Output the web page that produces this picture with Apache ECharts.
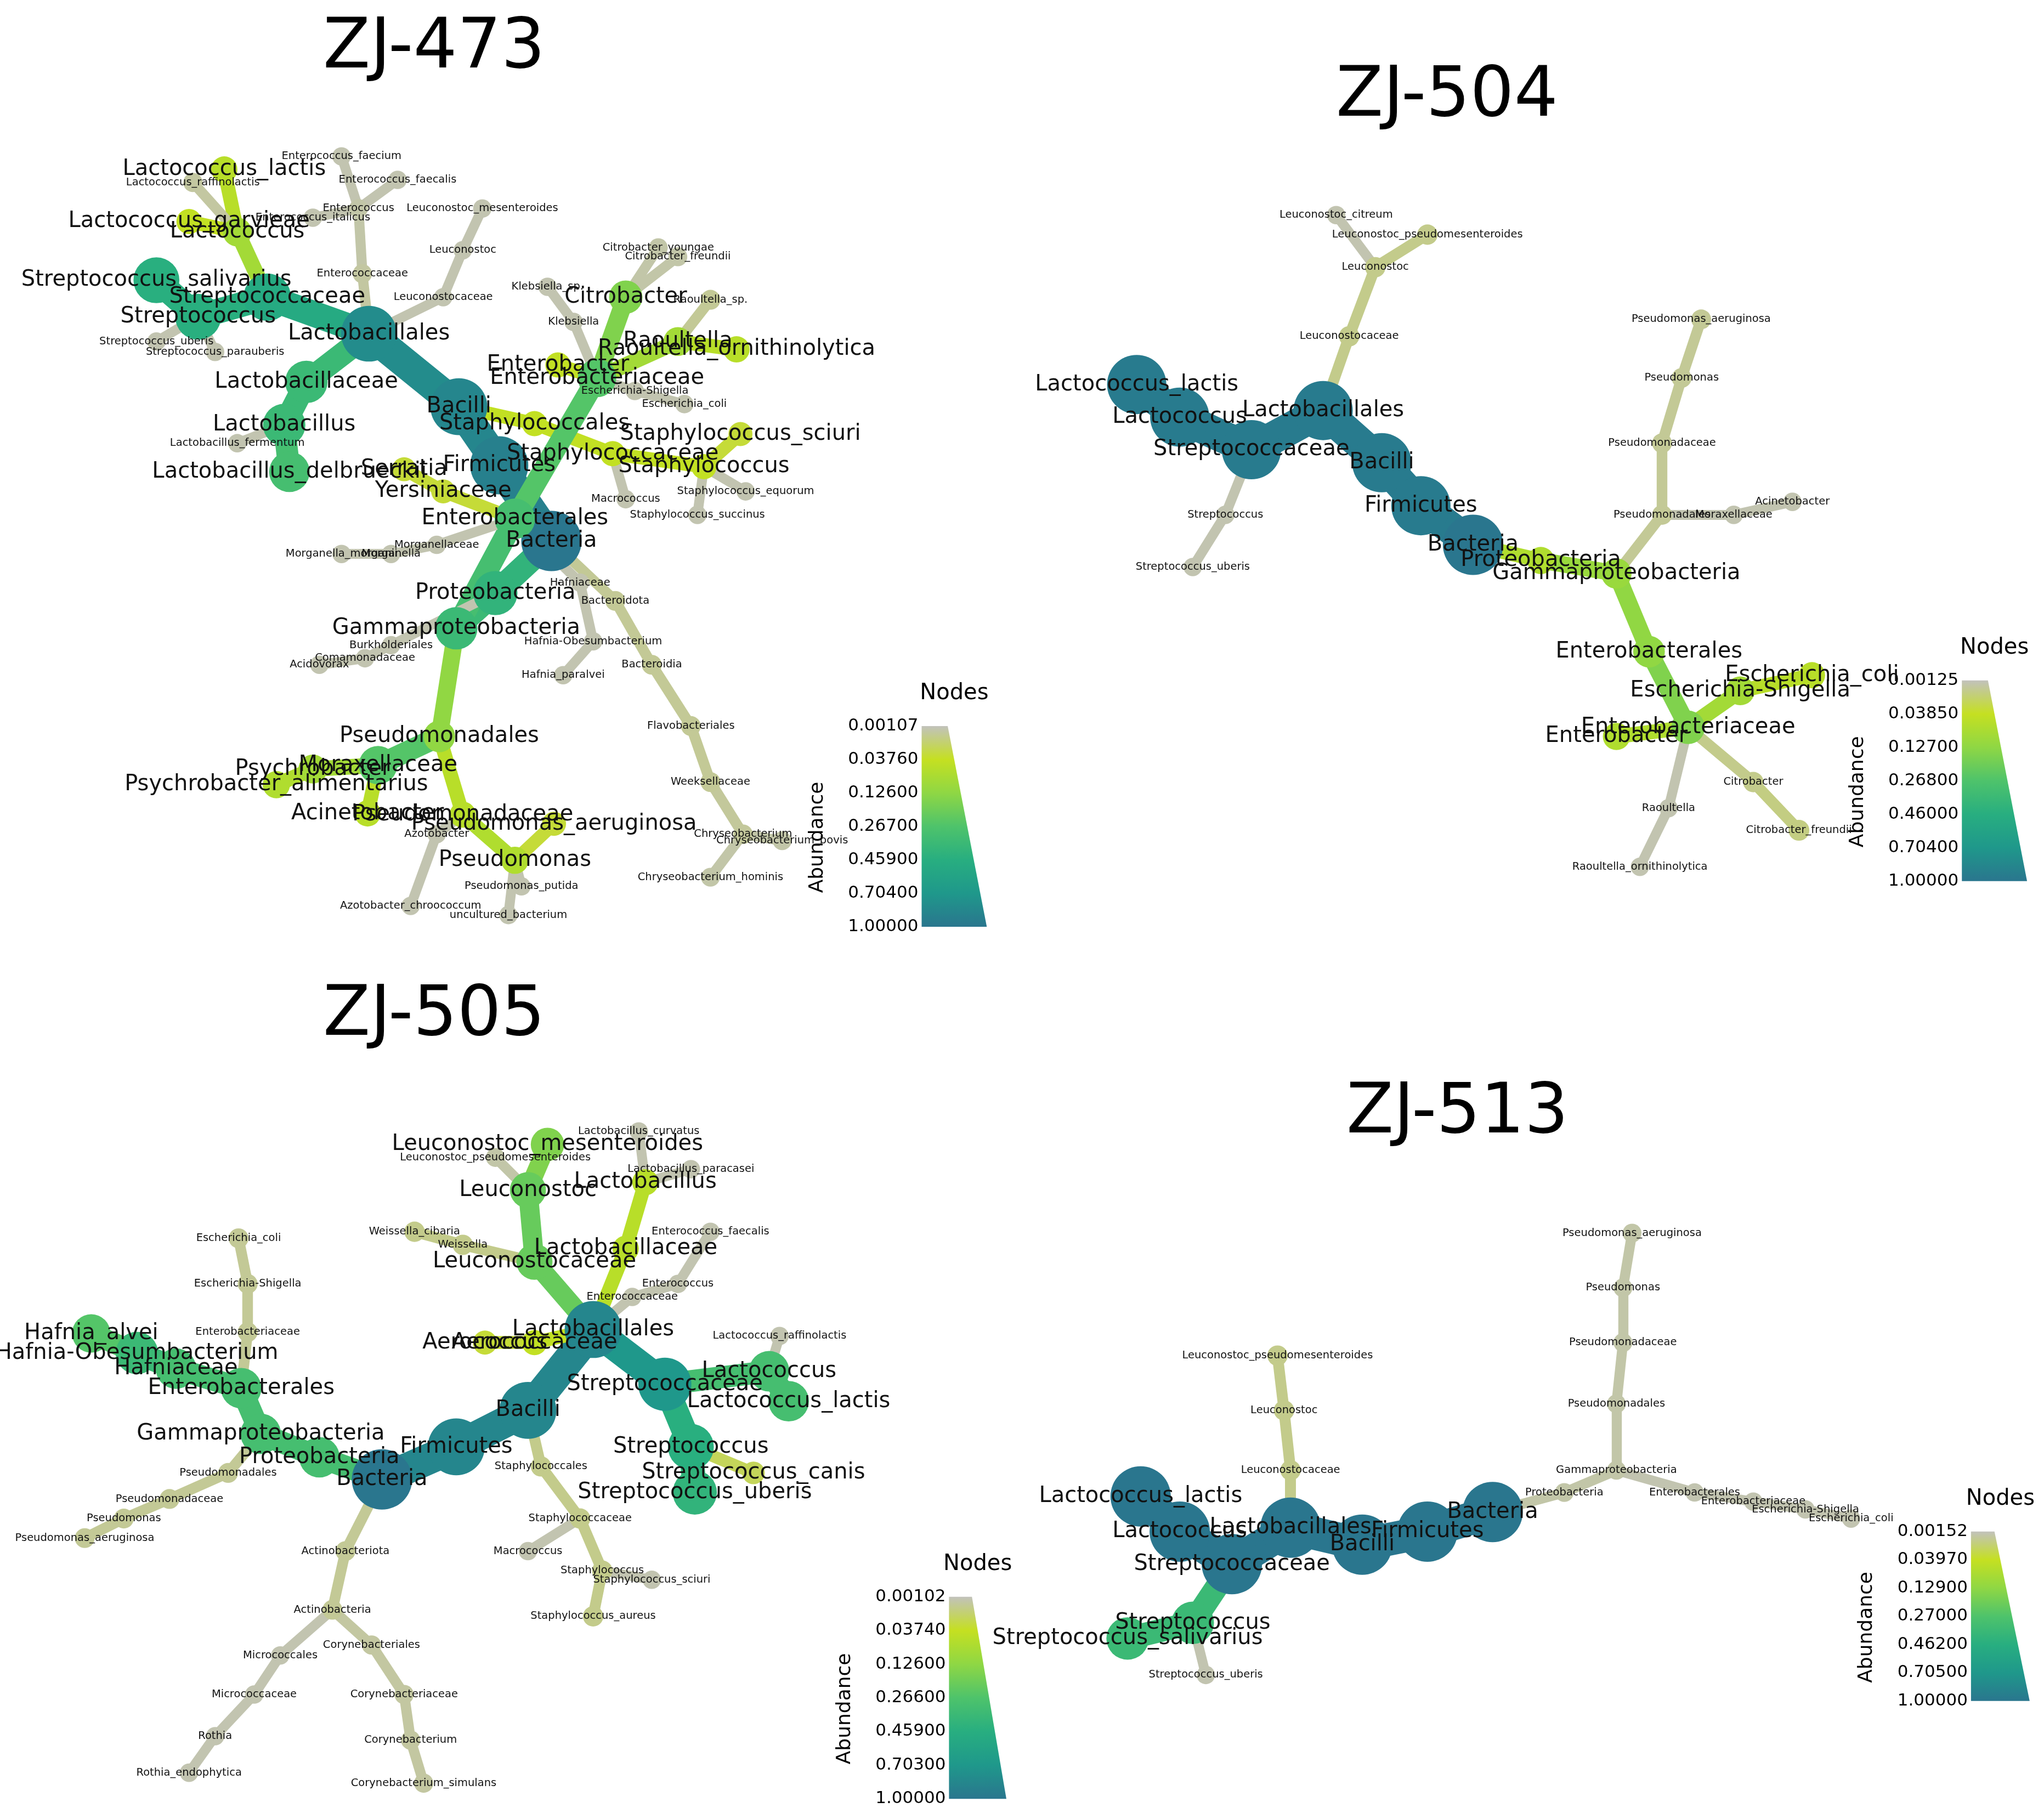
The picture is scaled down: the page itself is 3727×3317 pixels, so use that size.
<!DOCTYPE html>
<html>
<head>
<meta charset="utf-8">
<script src="https://cdn.jsdelivr.net/npm/echarts@6/dist/echarts.min.js"></script>
<style>html,body{margin:0;background:#fff}#chart{width:3727px;height:3317px}</style>
</head>
<body>
<div id="chart"></div>
<script>
// [name, parent, x, y, abundance] - positions read in a 1568-wide frame
const zj473 = [
  ['Bacteria', null, 423, 415, 1.0],
  ['Firmicutes', 'Bacteria', 383, 357, 0.9],
  ['Bacilli', 'Firmicutes', 352, 312, 0.85],
  ['Lactobacillales', 'Bacilli', 283, 256, 0.8],
  ['Streptococcaceae', 'Lactobacillales', 205, 228, 0.5],
  ['Streptococcus', 'Streptococcaceae', 152, 243, 0.45],
  ['Streptococcus_salivarius', 'Streptococcus', 120, 215, 0.45],
  ['Streptococcus_uberis', 'Streptococcus', 120, 262, 0.002],
  ['Streptococcus_parauberis', 'Streptococcus', 165, 270, 0.002],
  ['Lactobacillaceae', 'Lactobacillales', 235, 293, 0.35],
  ['Lactobacillus', 'Lactobacillaceae', 218, 326, 0.35],
  ['Lactobacillus_delbrueckii', 'Lactobacillus', 222, 362, 0.3],
  ['Lactobacillus_fermentum', 'Lactobacillus', 182, 340, 0.002],
  ['Lactococcus', 'Streptococcaceae', 182, 178, 0.08],
  ['Lactococcus_lactis', 'Lactococcus', 172, 130, 0.05],
  ['Lactococcus_raffinolactis', 'Lactococcus', 148, 140, 0.004],
  ['Lactococcus_garvieae', 'Lactococcus', 145, 170, 0.04],
  ['Enterococcaceae', 'Lactobacillales', 278, 210, 0.004],
  ['Enterococcus', 'Enterococcaceae', 275, 160, 0.003],
  ['Enterococcus_faecium', 'Enterococcus', 262, 120, 0.002],
  ['Enterococcus_faecalis', 'Enterococcus', 305, 138, 0.002],
  ['Enterococcus_italicus', 'Enterococcus', 240, 167, 0.002],
  ['Leuconostocaceae', 'Lactobacillales', 340, 228, 0.002],
  ['Leuconostoc', 'Leuconostocaceae', 355, 192, 0.002],
  ['Leuconostoc_mesenteroides', 'Leuconostoc', 370, 160, 0.002],
  ['Staphylococcales', 'Bacilli', 410, 325, 0.04],
  ['Staphylococcaceae', 'Staphylococcales', 470, 348, 0.04],
  ['Staphylococcus', 'Staphylococcaceae', 540, 358, 0.04],
  ['Staphylococcus_sciuri', 'Staphylococcus', 568, 333, 0.03],
  ['Staphylococcus_equorum', 'Staphylococcus', 572, 377, 0.002],
  ['Staphylococcus_succinus', 'Staphylococcus', 535, 395, 0.002],
  ['Macrococcus', 'Staphylococcaceae', 480, 383, 0.002],
  ['Proteobacteria', 'Bacteria', 380, 455, 0.4],
  ['Gammaproteobacteria', 'Proteobacteria', 350, 482, 0.35],
  ['Enterobacterales', 'Gammaproteobacteria', 395, 398, 0.3],
  ['Enterobacteriaceae', 'Enterobacterales', 458, 290, 0.25],
  ['Citrobacter', 'Enterobacteriaceae', 480, 228, 0.15],
  ['Citrobacter_youngae', 'Citrobacter', 505, 190, 0.003],
  ['Citrobacter_freundii', 'Citrobacter', 520, 197, 0.003],
  ['Klebsiella', 'Enterobacteriaceae', 440, 247, 0.002],
  ['Klebsiella_sp.', 'Klebsiella', 420, 220, 0.002],
  ['Raoultella', 'Enterobacteriaceae', 520, 262, 0.08],
  ['Raoultella_sp.', 'Raoultella', 545, 230, 0.006],
  ['Raoultella_ornithinolytica', 'Raoultella', 565, 268, 0.05],
  ['Enterobacter', 'Enterobacteriaceae', 428, 280, 0.04],
  ['Escherichia-Shigella', 'Enterobacteriaceae', 487, 300, 0.002],
  ['Escherichia_coli', 'Escherichia-Shigella', 525, 310, 0.002],
  ['Yersiniaceae', 'Enterobacterales', 340, 377, 0.03],
  ['Serratia', 'Yersiniaceae', 310, 360, 0.03],
  ['Morganellaceae', 'Enterobacterales', 335, 418, 0.002],
  ['Morganella', 'Morganellaceae', 300, 425, 0.002],
  ['Morganella_morganii', 'Morganella', 262, 425, 0.002],
  ['Hafniaceae', 'Enterobacterales', 445, 447, 0.002],
  ['Hafnia-Obesumbacterium', 'Hafniaceae', 455, 492, 0.002],
  ['Hafnia_paralvei', 'Hafnia-Obesumbacterium', 432, 518, 0.002],
  ['Bacteroidota', 'Bacteria', 472, 461, 0.006],
  ['Bacteroidia', 'Bacteroidota', 500, 510, 0.006],
  ['Flavobacteriales', 'Bacteroidia', 530, 557, 0.006],
  ['Weeksellaceae', 'Flavobacteriales', 545, 600, 0.006],
  ['Chryseobacterium', 'Weeksellaceae', 570, 640, 0.005],
  ['Chryseobacterium_bovis', 'Chryseobacterium', 600, 645, 0.003],
  ['Chryseobacterium_hominis', 'Chryseobacterium', 545, 673, 0.003],
  ['Burkholderiales', 'Proteobacteria', 300, 495, 0.002],
  ['Comamonadaceae', 'Burkholderiales', 280, 505, 0.002],
  ['Acidovorax', 'Comamonadaceae', 245, 510, 0.002],
  ['Pseudomonadales', 'Gammaproteobacteria', 337, 565, 0.12],
  ['Moraxellaceae', 'Pseudomonadales', 290, 587, 0.25],
  ['Psychrobacter', 'Moraxellaceae', 240, 590, 0.08],
  ['Psychrobacter_alimentarius', 'Psychrobacter', 212, 602, 0.06],
  ['Acinetobacter', 'Moraxellaceae', 282, 624, 0.05],
  ['Pseudomonadaceae', 'Pseudomonadales', 355, 625, 0.05],
  ['Pseudomonas', 'Pseudomonadaceae', 395, 660, 0.06],
  ['Pseudomonas_aeruginosa', 'Pseudomonas', 425, 632, 0.03],
  ['Pseudomonas_putida', 'Pseudomonas', 400, 680, 0.002],
  ['uncultured_bacterium', 'Pseudomonas', 390, 702, 0.002],
  ['Azotobacter', 'Pseudomonadaceae', 335, 640, 0.002],
  ['Azotobacter_chroococcum', 'Azotobacter', 315, 695, 0.002]
]
const zj504 = [
  ['Bacteria', null, 1130, 418, 1.0],
  ['Firmicutes', 'Bacteria', 1090, 388, 0.95],
  ['Bacilli', 'Firmicutes', 1060, 355, 0.95],
  ['Lactobacillales', 'Bacilli', 1015, 315, 0.95],
  ['Streptococcaceae', 'Lactobacillales', 960, 345, 0.95],
  ['Lactococcus', 'Streptococcaceae', 905, 320, 0.95],
  ['Lactococcus_lactis', 'Lactococcus', 872, 295, 0.95],
  ['Streptococcus', 'Streptococcaceae', 940, 395, 0.002],
  ['Streptococcus_uberis', 'Streptococcus', 915, 435, 0.002],
  ['Leuconostocaceae', 'Lactobacillales', 1035, 258, 0.008],
  ['Leuconostoc', 'Leuconostocaceae', 1055, 205, 0.008],
  ['Leuconostoc_pseudomesenteroides', 'Leuconostoc', 1095, 180, 0.008],
  ['Leuconostoc_citreum', 'Leuconostoc', 1025, 165, 0.002],
  ['Proteobacteria', 'Bacteria', 1182, 430, 0.06],
  ['Gammaproteobacteria', 'Proteobacteria', 1240, 440, 0.1],
  ['Pseudomonadales', 'Gammaproteobacteria', 1275, 395, 0.006],
  ['Pseudomonadaceae', 'Pseudomonadales', 1275, 340, 0.006],
  ['Pseudomonas', 'Pseudomonadaceae', 1290, 290, 0.006],
  ['Pseudomonas_aeruginosa', 'Pseudomonas', 1305, 245, 0.006],
  ['Moraxellaceae', 'Pseudomonadales', 1330, 395, 0.002],
  ['Acinetobacter', 'Moraxellaceae', 1375, 385, 0.002],
  ['Enterobacterales', 'Gammaproteobacteria', 1265, 500, 0.12],
  ['Enterobacteriaceae', 'Enterobacterales', 1295, 558, 0.15],
  ['Escherichia-Shigella', 'Enterobacteriaceae', 1335, 530, 0.08],
  ['Escherichia_coli', 'Escherichia-Shigella', 1390, 518, 0.05],
  ['Enterobacter', 'Enterobacteriaceae', 1240, 565, 0.06],
  ['Citrobacter', 'Enterobacteriaceae', 1345, 600, 0.008],
  ['Citrobacter_freundii', 'Citrobacter', 1380, 637, 0.01],
  ['Raoultella', 'Enterobacteriaceae', 1280, 620, 0.002],
  ['Raoultella_ornithinolytica', 'Raoultella', 1258, 665, 0.002]
]
const zj505 = [
  ['Bacteria', null, 293, 1135, 1.0],
  ['Firmicutes', 'Bacteria', 350, 1110, 0.85],
  ['Bacilli', 'Firmicutes', 405, 1082, 0.85],
  ['Lactobacillales', 'Bacilli', 455, 1020, 0.85],
  ['Streptococcaceae', 'Lactobacillales', 510, 1062, 0.7],
  ['Lactococcus', 'Streptococcaceae', 590, 1052, 0.3],
  ['Lactococcus_lactis', 'Lactococcus', 605, 1075, 0.3],
  ['Lactococcus_raffinolactis', 'Lactococcus', 598, 1025, 0.002],
  ['Streptococcus', 'Streptococcaceae', 530, 1110, 0.45],
  ['Streptococcus_uberis', 'Streptococcus', 533, 1145, 0.4],
  ['Streptococcus_canis', 'Streptococcus', 578, 1130, 0.02],
  ['Enterococcaceae', 'Lactobacillales', 485, 995, 0.002],
  ['Enterococcus', 'Enterococcaceae', 520, 985, 0.002],
  ['Enterococcus_faecalis', 'Enterococcus', 545, 945, 0.002],
  ['Lactobacillaceae', 'Lactobacillales', 480, 958, 0.05],
  ['Lactobacillus', 'Lactobacillaceae', 495, 907, 0.05],
  ['Lactobacillus_paracasei', 'Lactobacillus', 530, 897, 0.002],
  ['Lactobacillus_curvatus', 'Lactobacillus', 490, 868, 0.002],
  ['Leuconostocaceae', 'Lactobacillales', 410, 968, 0.2],
  ['Leuconostoc', 'Leuconostocaceae', 405, 913, 0.2],
  ['Leuconostoc_mesenteroides', 'Leuconostoc', 420, 878, 0.15],
  ['Leuconostoc_pseudomesenteroides', 'Leuconostoc', 380, 888, 0.003],
  ['Weissella', 'Leuconostocaceae', 355, 955, 0.008],
  ['Weissella_cibaria', 'Weissella', 318, 945, 0.008],
  ['Aerococcaceae', 'Lactobacillales', 410, 1030, 0.04],
  ['Aerococcus', 'Aerococcaceae', 372, 1030, 0.03],
  ['Staphylococcales', 'Bacilli', 415, 1125, 0.008],
  ['Staphylococcaceae', 'Staphylococcales', 445, 1165, 0.008],
  ['Staphylococcus', 'Staphylococcaceae', 462, 1205, 0.008],
  ['Staphylococcus_sciuri', 'Staphylococcus', 500, 1212, 0.002],
  ['Staphylococcus_aureus', 'Staphylococcus', 455, 1240, 0.008],
  ['Macrococcus', 'Staphylococcaceae', 405, 1190, 0.002],
  ['Proteobacteria', 'Bacteria', 245, 1118, 0.3],
  ['Gammaproteobacteria', 'Proteobacteria', 200, 1100, 0.3],
  ['Enterobacterales', 'Gammaproteobacteria', 185, 1065, 0.3],
  ['Hafniaceae', 'Enterobacterales', 135, 1050, 0.3],
  ['Hafnia-Obesumbacterium', 'Hafniaceae', 105, 1038, 0.35],
  ['Hafnia_alvei', 'Hafnia-Obesumbacterium', 70, 1023, 0.25],
  ['Enterobacteriaceae', 'Enterobacterales', 190, 1022, 0.006],
  ['Escherichia-Shigella', 'Enterobacteriaceae', 190, 985, 0.006],
  ['Escherichia_coli', 'Escherichia-Shigella', 183, 950, 0.006],
  ['Pseudomonadales', 'Gammaproteobacteria', 175, 1130, 0.006],
  ['Pseudomonadaceae', 'Pseudomonadales', 130, 1150, 0.006],
  ['Pseudomonas', 'Pseudomonadaceae', 95, 1165, 0.006],
  ['Pseudomonas_aeruginosa', 'Pseudomonas', 65, 1180, 0.006],
  ['Actinobacteriota', 'Bacteria', 265, 1190, 0.006],
  ['Actinobacteria', 'Actinobacteriota', 255, 1235, 0.006],
  ['Micrococcales', 'Actinobacteria', 215, 1270, 0.002],
  ['Micrococcaceae', 'Micrococcales', 195, 1300, 0.002],
  ['Rothia', 'Micrococcaceae', 165, 1332, 0.002],
  ['Rothia_endophytica', 'Rothia', 145, 1360, 0.002],
  ['Corynebacteriales', 'Actinobacteria', 285, 1262, 0.004],
  ['Corynebacteriaceae', 'Corynebacteriales', 310, 1300, 0.004],
  ['Corynebacterium', 'Corynebacteriaceae', 315, 1335, 0.004],
  ['Corynebacterium_simulans', 'Corynebacterium', 325, 1368, 0.004]
]
const zj513 = [
  ['Bacteria', null, 1145, 1160, 1.0],
  ['Firmicutes', 'Bacteria', 1095, 1175, 1.0],
  ['Bacilli', 'Firmicutes', 1045, 1185, 1.0],
  ['Lactobacillales', 'Bacilli', 990, 1172, 1.0],
  ['Streptococcaceae', 'Lactobacillales', 945, 1200, 1.0],
  ['Lactococcus', 'Streptococcaceae', 905, 1175, 1.0],
  ['Lactococcus_lactis', 'Lactococcus', 875, 1148, 1.0],
  ['Streptococcus', 'Streptococcaceae', 915, 1245, 0.35],
  ['Streptococcus_salivarius', 'Streptococcus', 865, 1257, 0.35],
  ['Streptococcus_uberis', 'Streptococcus', 925, 1285, 0.002],
  ['Leuconostocaceae', 'Lactobacillales', 990, 1128, 0.008],
  ['Leuconostoc', 'Leuconostocaceae', 985, 1082, 0.008],
  ['Leuconostoc_pseudomesenteroides', 'Leuconostoc', 980, 1040, 0.008],
  ['Proteobacteria', 'Bacteria', 1200, 1145, 0.003],
  ['Gammaproteobacteria', 'Proteobacteria', 1240, 1128, 0.003],
  ['Pseudomonadales', 'Gammaproteobacteria', 1240, 1077, 0.003],
  ['Pseudomonadaceae', 'Pseudomonadales', 1245, 1030, 0.003],
  ['Pseudomonas', 'Pseudomonadaceae', 1245, 988, 0.003],
  ['Pseudomonas_aeruginosa', 'Pseudomonas', 1252, 946, 0.003],
  ['Enterobacterales', 'Gammaproteobacteria', 1300, 1145, 0.002],
  ['Enterobacteriaceae', 'Enterobacterales', 1345, 1152, 0.002],
  ['Escherichia-Shigella', 'Enterobacteriaceae', 1385, 1158, 0.002],
  ['Escherichia_coli', 'Escherichia-Shigella', 1420, 1165, 0.002]
]
const panels = [zj473, zj504, zj505, zj513]
const titles = ['ZJ-473', 'ZJ-504', 'ZJ-505', 'ZJ-513']
const titlePos = [[333, 38], [1110, 75], [333, 780], [1118, 855]]
// colourbar: [left, top, right, bottom] in the 1568 frame, and tick labels
const barBoxes = [[707, 557, 757, 711], [1505, 522, 1555, 676], [728, 1225, 772, 1380], [1512, 1175, 1557, 1305]]
const barTicks = [
  ['0.00107', '0.03760', '0.12600', '0.26700', '0.45900', '0.70400', '1.00000'],
  ['0.00125', '0.03850', '0.12700', '0.26800', '0.46000', '0.70400', '1.00000'],
  ['0.00102', '0.03740', '0.12600', '0.26600', '0.45900', '0.70300', '1.00000'],
  ['0.00152', '0.03970', '0.12900', '0.27000', '0.46200', '0.70500', '1.00000']
]
const stopVals = [0.001, 0.0376, 0.126, 0.267, 0.459, 0.704, 1.0]
const stopCols = ['#c2c2bc', '#c5e021', '#8fd744', '#4ec36b', '#28ae80', '#1f988b', '#2a768e']

const W = 1568, H = 1395.5, S = 3727 / 1568

function hex(c) { return [1, 3, 5].map(i => parseInt(c.substr(i, 2), 16)) }
function colorOf(a) {
  a = Math.max(stopVals[0], Math.min(1, a))
  for (let i = 0; i < stopVals.length - 1; i++) {
    if (a <= stopVals[i + 1]) {
      let t
      if (i === 0) t = Math.pow((a - stopVals[0]) / (stopVals[1] - stopVals[0]), 0.7)
      else t = (Math.log(a) - Math.log(stopVals[i])) / (Math.log(stopVals[i + 1]) - Math.log(stopVals[i]))
      const c0 = hex(stopCols[i]), c1 = hex(stopCols[i + 1])
      return 'rgb(' + c0.map((v, k) => Math.round(v + (c1[k] - v) * t)).join(',') + ')'
    }
  }
  return stopCols[stopCols.length - 1]
}

let nodes = [], links = []
panels.forEach((p, pi) => {
  p.forEach(n => {
    const a = n[4]
    const big = a >= 0.02
    nodes.push({
      id: pi + '_' + n[0], name: n[0], value: [n[2], n[3]],
      symbolSize: 30 + 80 * Math.sqrt(a),
      itemStyle: {color: colorOf(a)},
      label: {show: true, position: 'inside', color: '#111', fontSize: big ? 40 : 19.5, fontFamily: 'DejaVu Sans'}
    })
    if (n[1]) links.push({
      source: pi + '_' + n[1], target: pi + '_' + n[0],
      lineStyle: {color: colorOf(a), width: 16 + 44 * Math.sqrt(a), opacity: 1, curveness: 0}
    })
  })
})

let graphics = []
titles.forEach((t, i) => {
  graphics.push({type: 'text', x: titlePos[i][0] * S, y: titlePos[i][1] * S,
    style: {text: t, fontSize: 126, fontFamily: 'DejaVu Sans', fill: '#000', align: 'center', verticalAlign: 'middle'}})
  const [l, tp, r, b] = barBoxes[i].map(v => v * S)
  const colorStops = stopCols.map((c, k) => ({offset: k / (stopCols.length - 1), color: c}))
  graphics.push({type: 'polygon', shape: {points: [[l, tp], [l + (r - l) * 0.4, tp], [r, b], [l, b]]},
    style: {fill: new echarts.graphic.LinearGradient(0, 0, 0, 1, colorStops)}})
  graphics.push({type: 'text', x: (l + r) / 2, y: tp - 25 * S,
    style: {text: 'Nodes', fontSize: 40, fontFamily: 'DejaVu Sans', fill: '#000', align: 'center', verticalAlign: 'middle'}})
  barTicks[i].forEach((lab, k) => {
    graphics.push({type: 'text', x: l - 6, y: tp + (b - tp) * k / 6,
      style: {text: lab, fontSize: 31, fontFamily: 'DejaVu Sans', fill: '#000', align: 'right', verticalAlign: 'middle'}})
  })
  graphics.push({type: 'text', x: l - 190, y: (tp + b) / 2 + 20, rotation: Math.PI / 2,
    style: {text: 'Abundance', fontSize: 36, fontFamily: 'DejaVu Sans', fill: '#000', align: 'center', verticalAlign: 'middle'}})
})

let chart = echarts.init(document.querySelector('#chart'))
chart.setOption({
  animation: false,
  backgroundColor: '#fff',
  grid: {left: 0, right: 0, top: 0, bottom: 0},
  xAxis: {type: 'value', min: 0, max: W, show: false},
  yAxis: {type: 'value', min: 0, max: H, inverse: true, show: false},
  series: [{
    type: 'graph', coordinateSystem: 'cartesian2d', layout: 'none',
    data: nodes, links: links, edgeSymbol: ['none', 'none'],
    labelLayout: {hideOverlap: false}
  }],
  graphic: graphics
})
</script>
</body>
</html>
